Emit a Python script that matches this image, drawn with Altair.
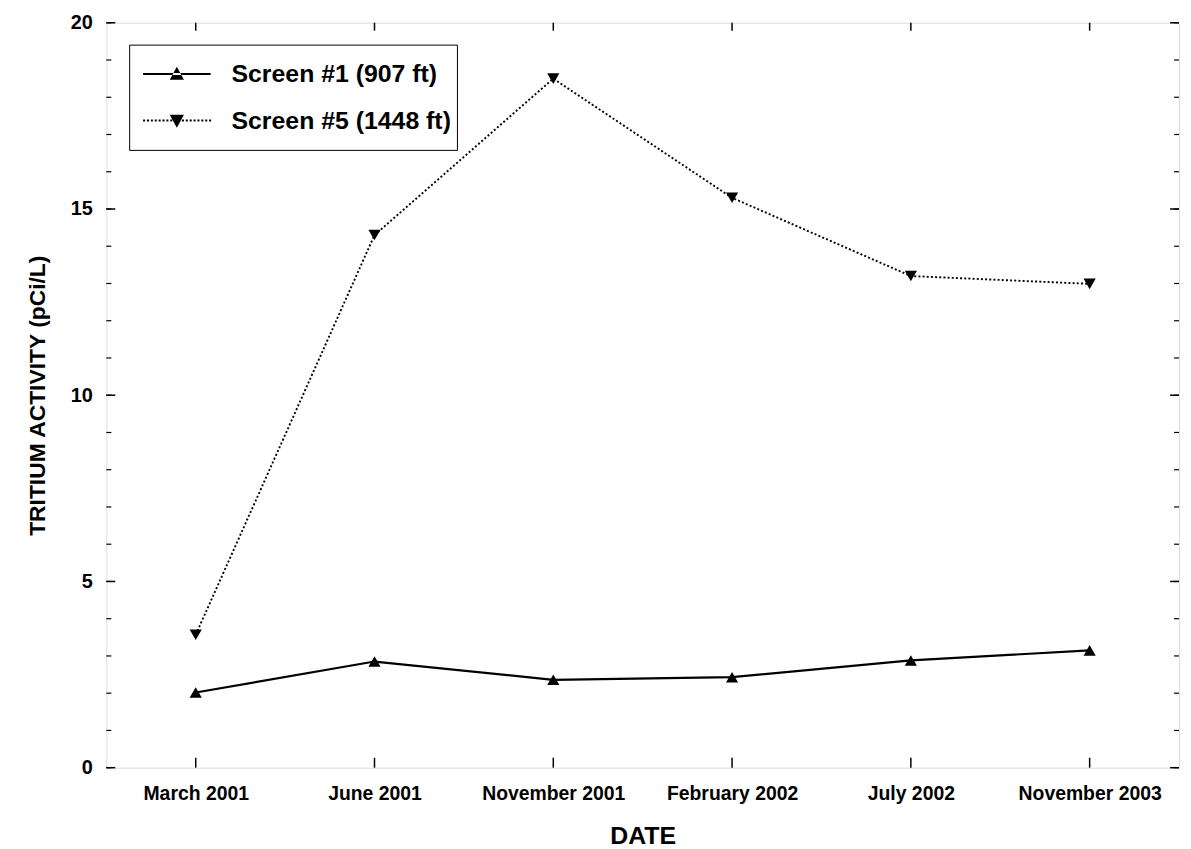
import altair as alt
import pandas as pd
import numpy as np

# ---- data ----
dates = ["March 2001", "June 2001", "November 2001", "February 2002", "July 2002", "November 2003"]
series_names = ["Screen #1 (907 ft)", "Screen #5 (1448 ft)"]
screen1 = [2.02, 2.85, 2.36, 2.43, 2.88, 3.15]
screen5 = [3.57, 14.3, 18.5, 15.3, 13.2, 12.99]

y_major_ticks = [0, 5, 10, 15, 20]
y_minor_ticks = list(range(0, 21))

W, H = 1080, 750
FONT = "Liberation Sans"

df1 = pd.DataFrame({"date": dates, "value": screen1, "series": series_names[0]})
df5 = pd.DataFrame({"date": dates, "value": screen5, "series": series_names[1]})
tick_major = pd.DataFrame({"value": y_major_ticks})
tick_minor = pd.DataFrame({"value": y_minor_ticks})
tick_x = pd.DataFrame({"date": dates})
legend_df = pd.DataFrame({"series": series_names})

x_enc = alt.X(
    "date:N",
    sort=dates,
    scale=alt.Scale(type="point", padding=0.5, domain=dates),
    axis=alt.Axis(
        title="DATE", labelAngle=0, ticks=False, domain=False, grid=False,
        labelFont=FONT, labelFontSize=19.5, labelFontWeight="bold", labelColor="black",
        labelPadding=17, titleFont=FONT, titleFontSize=25, titleFontWeight="bold",
        titleColor="black", titlePadding=21,
    ),
)
y_enc = alt.Y(
    "value:Q",
    scale=alt.Scale(domain=[0, 20], nice=False, zero=True),
    axis=alt.Axis(
        title="TRITIUM ACTIVITY (pCi/L)", values=y_major_ticks, ticks=False, domain=False,
        grid=False, labelFont=FONT, labelFontSize=20, labelFontWeight="bold",
        labelColor="black", labelPadding=14, titleFont=FONT, titleFontSize=23,
        titleFontWeight="bold", titleColor="black", titlePadding=21,
    ),
)

line1 = alt.Chart(df1).mark_line(color="black", strokeWidth=2.2).encode(x=x_enc, y=y_enc)
pts1 = alt.Chart(df1).mark_point(
    shape="triangle-up", filled=True, size=150, color="black", opacity=1
).encode(x=x_enc, y=y_enc)
line5 = alt.Chart(df5).mark_line(color="black", strokeWidth=1.9, strokeDash=[2, 2.2]).encode(x=x_enc, y=y_enc)
pts5 = alt.Chart(df5).mark_point(
    shape="triangle-down", filled=True, size=150, color="black", opacity=1
).encode(x=x_enc, y=y_enc)

# inward tick marks on all four sides
lmaj = alt.Chart(tick_major).mark_rule(color="black", strokeWidth=1.5).encode(
    y=y_enc, x=alt.value(0), x2=alt.value(9))
lmin = alt.Chart(tick_minor).mark_rule(color="black", strokeWidth=1.2).encode(
    y=y_enc, x=alt.value(0), x2=alt.value(5))
rmaj = alt.Chart(tick_major).mark_rule(color="black", strokeWidth=1.5).encode(
    y=y_enc, x=alt.value(W), x2=alt.value(W - 9))
rmin = alt.Chart(tick_minor).mark_rule(color="black", strokeWidth=1.2).encode(
    y=y_enc, x=alt.value(W), x2=alt.value(W - 5))
btick = alt.Chart(tick_x).mark_rule(color="black", strokeWidth=1.5).encode(
    x=x_enc, y=alt.value(H), y2=alt.value(H - 10))
ttick = alt.Chart(tick_x).mark_rule(color="black", strokeWidth=1.5).encode(
    x=x_enc, y=alt.value(0), y2=alt.value(8))

# legend symbols: line + triangle drawn as filled shapes (unit = 34 px)
solid_path = "M-1,-0.03H1V0.03H-1Z M-0.21,0.17L0.21,0.17L0,-0.21Z"
dots = " ".join(
    f"M{x:.3f},-0.03h0.06v0.06h-0.06Z" for x in np.arange(-1.0, 0.97, 0.115)
)
dotted_path = dots + " M-0.21,-0.17L0.21,-0.17L0,0.21Z"

legend_layer = alt.Chart(legend_df).mark_point(
    filled=True, size=0, fill="black", opacity=1, strokeWidth=0
).encode(
    shape=alt.Shape(
        "series:N",
        scale=alt.Scale(domain=series_names, range=[solid_path, dotted_path]),
        legend=alt.Legend(
            title=None, orient="none", legendX=23, legendY=22,
            strokeColor="black", fillColor="white", padding=6,
            symbolSize=4624, symbolStrokeWidth=0, symbolFillColor="black",
            symbolOpacity=1, clipHeight=47, rowPadding=0,
            symbolOffset=8, labelOffset=21, labelFont=FONT, labelFontSize=25,
            labelFontWeight="bold", labelColor="black", labelLimit=500,
        ),
    )
)

chart = alt.layer(
    lmin, lmaj, rmin, rmaj, btick, ttick, line5, line1, pts5, pts1, legend_layer
).properties(
    width=W, height=H,
    autosize=alt.AutoSizeParams(type="none"),
    padding={"left": 99, "top": 12, "right": 4, "bottom": 79},
).configure_view(
    stroke="black", strokeWidth=2
).configure_legend(
    strokeWidth=1.5
).configure(background="white")

chart.save("out.html", embed_options={"renderer": "svg", "actions": False})
